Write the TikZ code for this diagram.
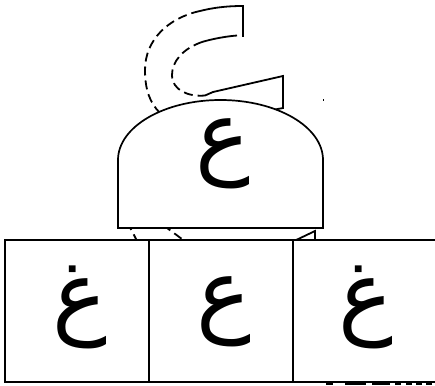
\documentclass[tikz,border=0pt]{standalone}
\usepackage{fontspec}
\newfontfamily\arabicfont[Script=Arabic]{DejaVu Sans}
\TeXXeTstate=1
\begin{document}
\begin{tikzpicture}[x=1pt,y=-1pt,
  glyph/.style={font=\arabicfont\fontsize{92}{96}\selectfont, inner sep=0pt},
  outl/.style={line width=1.8pt, line cap=butt},
  dsh/.style={outl, dash pattern=on 9pt off 5pt},
  cell/.style={draw, line width=1.7pt, fill=white, minimum width=144pt, minimum height=142pt, inner sep=0pt},
  domeline/.style={draw, line width=1.7pt, fill=white}]
\useasboundingbox (0,0) rectangle (435,385);
% big outlined letter behind
\coordinate (t1) at (243,37);
\coordinate (t2) at (243,6);
\coordinate (t3) at (200,11);
\coordinate (o1) at (145,70);
\coordinate (o2) at (160,113);
\coordinate (i0) at (237,35.5);
\coordinate (i1) at (202,42);
\coordinate (i2) at (172,75);
\coordinate (i3) at (205,95.5);
\coordinate (i4) at (213,92);
\coordinate (r1) at (283,76);
\coordinate (r2) at (283,108);
\coordinate (r3) at (262,112);
\draw[outl] (t1) -- (t2) .. controls (225,6) and (212,8) .. (t3);
\draw[dsh] (t3) .. controls (168,18) and (145,40) .. (o1) .. controls (145,90) and (150,103) .. (o2) -- (170,125);
\draw[outl] (i0) .. controls (225,36.5) and (212,39) .. (i1);
\draw[dsh] (i1) .. controls (182,49) and (172,62) .. (i2) .. controls (172,90) and (188,97) .. (i3);
\draw[outl] (i3) -- (i4) -- (r1) -- (r2) -- (r3);
\draw[dsh] (127,222) -- (134,235) -- (137,241);
\draw[dsh] (163,225) -- (186,242);
\draw[outl] (292,242) -- (315,231) -- (315,241);
% dome
\draw[domeline] (118,228) -- (118,160) arc[start angle=180, end angle=360, x radius=102.5, y radius=60] -- (323,228) -- cycle;
\node[glyph] (d) at (222.5,154) {\beginR ع\endR};
% boxes
\node[cell] (b1) at (77,311) {};
\node[cell] (b2) at (221,311) {};
\node[cell] (b3) at (365,311) {};
\node[glyph] (g1) at (80,307) {\beginR غ\endR};
\node[glyph] (g2) at (223.5,312) {\beginR ع\endR};
\node[glyph] (g3) at (365.5,307) {\beginR غ\endR};
% small marks
\fill (322.5,98.5) rectangle (323.7,101);
\foreach \a/\b in {326/333,345/366,372/390,395/401,406/412,416/422,426/432}
  \fill (\a,383) rectangle (\b,385);
\end{tikzpicture}
\end{document}
